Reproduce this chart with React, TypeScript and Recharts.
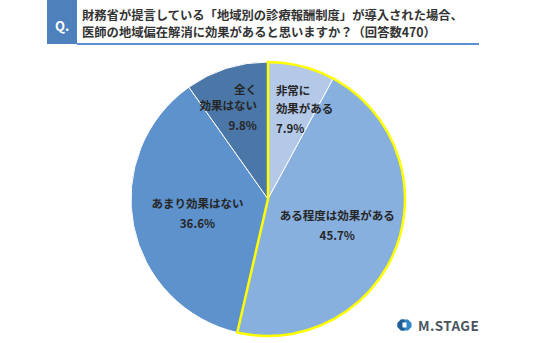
import React from "react";
import { PieChart, Pie, Cell } from "recharts";

const categories = ["非常に効果がある", "ある程度は効果がある", "あまり効果はない", "全く効果はない"];
const values = [7.9, 45.7, 36.6, 9.8];
const labelLines = [["非常に", "効果がある"], ["ある程度は効果がある"], ["あまり効果はない"], ["全く", "効果はない"]];
const percentLabels = ["7.9%", "45.7%", "36.6%", "9.8%"];
const highlighted = [true, true, false, false];
const titleLines = [
  "財務省が提言している「地域別の診療報酬制度」が導入された場合、",
  "医師の地域偏在解消に効果があると思いますか？（回答数470）",
];

const COLORS = ["#b4c8e8", "#88b0de", "#5d92cd", "#4a77a7"];
const FONT = "'Noto Sans CJK JP', 'Noto Sans', sans-serif";
const RAD = Math.PI / 180;

// label layout: radius factor, x shift, anchor, line y offsets
const LAYOUT = [
  { f: 0.68, dx: -15, anchor: "start", ys: [-19, -1, 19] },
  { f: 0.54, dx: 0, anchor: "middle", ys: [-10, 10] },
  { f: 0.54, dx: 2, anchor: "middle", ys: [-10, 10] },
  { f: 0.70, dx: 18, anchor: "end", ys: [-19, -3, 17] },
];

const data = categories.map((name, i) => ({ name, value: values[i] }));
const hiSum = values.filter((_, i) => highlighted[i]).reduce((a, b) => a + b, 0);
const restSum = values.filter((_, i) => !highlighted[i]).reduce((a, b) => a + b, 0);
const outline = [
  { name: "hi", value: hiSum },
  { name: "rest", value: restSum },
];

const renderLabel = (props: any) => {
  const { cx, cy, midAngle, outerRadius, index } = props;
  const L = LAYOUT[index];
  const r = outerRadius * L.f;
  const x = cx + r * Math.cos(-midAngle * RAD) + L.dx;
  const y = cy + r * Math.sin(-midAngle * RAD);
  const lines = [...labelLines[index], percentLabels[index]];
  return (
    <g>
      {lines.map((t, k) => (
        <text
          key={k}
          x={x}
          y={y + L.ys[k]}
          textAnchor={L.anchor}
          dominantBaseline="central"
          fontSize={11.5}
          fontWeight={700}
          fontFamily={FONT}
          fill="#262626"
        >
          {t}
        </text>
      ))}
    </g>
  );
};

export default function App() {
  return (
    <div style={{ position: "absolute", left: 0, top: 0, width: 536, height: 343, background: "#fff" }}>
      <div style={{ position: "absolute", left: 0, top: 0 }}>
        <PieChart width={536} height={343} margin={{ top: 0, right: 0, bottom: 0, left: 0 }}>
          <Pie
            data={data}
            dataKey="value"
            nameKey="name"
            cx={268}
            cy={199}
            outerRadius={137}
            startAngle={90}
            endAngle={-270}
            stroke="#ffffff"
            strokeWidth={1}
            label={renderLabel}
            labelLine={false}
            isAnimationActive={false}
          >
            {data.map((_, i) => (
              <Cell key={i} fill={COLORS[i]} />
            ))}
          </Pie>
          <Pie
            data={outline}
            dataKey="value"
            cx={268}
            cy={199}
            outerRadius={137}
            startAngle={90}
            endAngle={-270}
            isAnimationActive={false}
          >
            <Cell fill="none" stroke="#ffff00" strokeWidth={2.5} />
            <Cell fill="none" stroke="none" />
          </Pie>
        </PieChart>
      </div>
      <svg width={536} height={343} style={{ position: "absolute", left: 0, top: 0, pointerEvents: "none" }}>
        <rect x={47} y={0} width={30} height={44} fill="#4e80bb" />
        <text x={62} y={25} textAnchor="middle" dominantBaseline="central" fill="#fff" fontSize={13} fontWeight={700} fontFamily={FONT}>
          Q.
        </text>
        <rect x={77} y={43} width={402} height={2} fill="#5b8fcf" />
        {titleLines.map((t, i) => (
          <text key={i} x={82} y={15 + i * 17} dominantBaseline="central" fill="#333" fontSize={12.3} fontWeight={700} fontFamily={FONT}>
            {t}
          </text>
        ))}
        <g>
          <polygon points="401,319.5 408,319.5 411.5,323 411.5,327 408,330.5 401,330.5 397.5,327 397.5,323" fill="#2f86c8" />
          <polygon points="397.5,323 401,319.5 404.5,319.5 404.5,330.5 401,330.5 397.5,327" fill="#1f5f96" />
          <rect x={402.5} y={322.5} width={4} height={5} fill="#fff" />
          <text x={418} y={325} dominantBaseline="central" fill="#4a5561" fontSize={13.5} fontWeight={700} letterSpacing={0.4} fontFamily={FONT}>
            M.STAGE
          </text>
        </g>
      </svg>
    </div>
  );
}
